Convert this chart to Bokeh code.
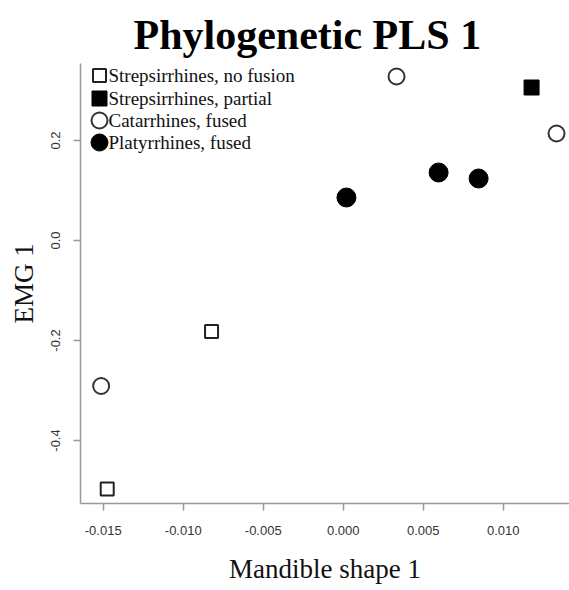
from bokeh.plotting import figure
from bokeh.models import Range1d, FixedTicker, Title
from bokeh.embed import file_html
from bokeh.resources import INLINE
from bokeh.core.properties import value

title_text = "Phylogenetic PLS 1"
x_label = "Mandible shape 1"
y_label = "EMG 1"

groups = ["Strepsirrhines, no fusion", "Strepsirrhines, partial",
          "Catarrhines, fused", "Platyrrhines, fused"]
strep_nofusion_x = [-0.00823, -0.01475]
strep_nofusion_y = [-0.182, -0.497]
strep_partial_x = [0.01177]
strep_partial_y = [0.306]
catarrhine_x = [0.00333, 0.01333, -0.01513]
catarrhine_y = [0.328, 0.214, -0.291]
platyrrhine_x = [0.0002, 0.00596, 0.00846]
platyrrhine_y = [0.086, 0.136, 0.124]

x_ticks = [-0.015, -0.010, -0.005, 0.0, 0.005, 0.010]
x_tick_labels = ["-0.015", "-0.010", "-0.005", "0.000", "0.005", "0.010"]
y_ticks = [-0.4, -0.2, 0.0, 0.2]
y_tick_labels = ["-0.4", "-0.2", "0.0", "0.2"]
x_min, x_max = -0.01642, 0.01414
y_min, y_max = -0.526, 0.354

W, H = 569, 590
BL, BR, BT, BB = 80, 0, 63, 87
FW, FH = W - BL - BR, H - BT - BB

p = figure(width=W, height=H, output_backend="svg", toolbar_location=None,
           x_range=Range1d(x_min, x_max), y_range=Range1d(y_min, y_max),
           min_border_left=BL, min_border_right=BR, min_border_top=BT,
           min_border_bottom=BB, background_fill_color="white",
           border_fill_color="white")
p.outline_line_color = None
p.grid.visible = False

p.add_layout(Title(text=title_text, align="left", offset=53,
                   text_font_size="42px", text_font="Liberation Serif",
                   text_font_style="bold", text_color="black", standoff=12), "above")

for ax in (p.xaxis[0], p.yaxis[0]):
    ax.axis_line_color = "#999999"
    ax.axis_line_width = 1.5
    ax.major_tick_line_color = "#999999"
    ax.major_tick_line_width = 1.5
    ax.major_tick_out = 7
    ax.major_tick_in = 0
    ax.minor_tick_out = 0
    ax.minor_tick_in = 0
    ax.major_label_text_font = "Liberation Sans"
    ax.major_label_text_font_size = "13px"
    ax.major_label_text_color = "#333333"
    ax.axis_label_text_font = "Liberation Serif"
    ax.axis_label_text_font_size = "27px"
    ax.axis_label_text_font_style = "normal"
    ax.axis_label_text_color = "#111111"

p.xaxis.ticker = FixedTicker(ticks=x_ticks)
p.xaxis.major_label_overrides = dict(zip(x_ticks, x_tick_labels))
p.xaxis.major_label_standoff = 15
p.xaxis.axis_label = x_label
p.xaxis.axis_label_standoff = 16

p.yaxis.ticker = FixedTicker(ticks=y_ticks)
p.yaxis.major_label_overrides = dict(zip(y_ticks, y_tick_labels))
p.yaxis.major_label_orientation = "vertical"
p.yaxis.major_label_standoff = 14
p.yaxis.axis_label = y_label
p.yaxis.axis_label_standoff = 9

styles = [
    dict(marker="square", size=13, fill_color="white", line_color="#222222", line_width=2),
    dict(marker="square", size=15, fill_color="black", line_color="black", line_width=1),
    dict(marker="circle", size=16, fill_color="white", line_color="#333333", line_width=2),
    dict(marker="circle", size=19, fill_color="black", line_color="black", line_width=1),
]
series = [(strep_nofusion_x, strep_nofusion_y), (strep_partial_x, strep_partial_y),
          (catarrhine_x, catarrhine_y), (platyrrhine_x, platyrrhine_y)]

for (xs, ys), st in zip(series, styles):
    p.scatter(xs, ys, **st)

# manual legend, positioned in pixels relative to the frame
def lx(px):
    return x_min + (px - BL) / FW * (x_max - x_min)

def ly(py):
    return y_max - (py - BT) / FH * (y_max - y_min)

leg_styles = [
    dict(marker="square", size=13, fill_color="white", line_color="#222222", line_width=2),
    dict(marker="square", size=15, fill_color="black", line_color="black", line_width=1),
    dict(marker="circle", size=16, fill_color="white", line_color="#333333", line_width=2),
    dict(marker="circle", size=17, fill_color="black", line_color="black", line_width=1),
]
leg_rows = [75, 98, 120, 142]
for name, st, row in zip(groups, leg_styles, leg_rows):
    p.scatter([lx(99)], [ly(row)], **st)
    p.text([lx(108)], [ly(row)], text=[name], text_align="left",
           text_baseline="middle", text_font=value("Liberation Serif"),
           text_font_size="19px", text_color="#111111")

open("out.html", "w").write(file_html(p, INLINE))
